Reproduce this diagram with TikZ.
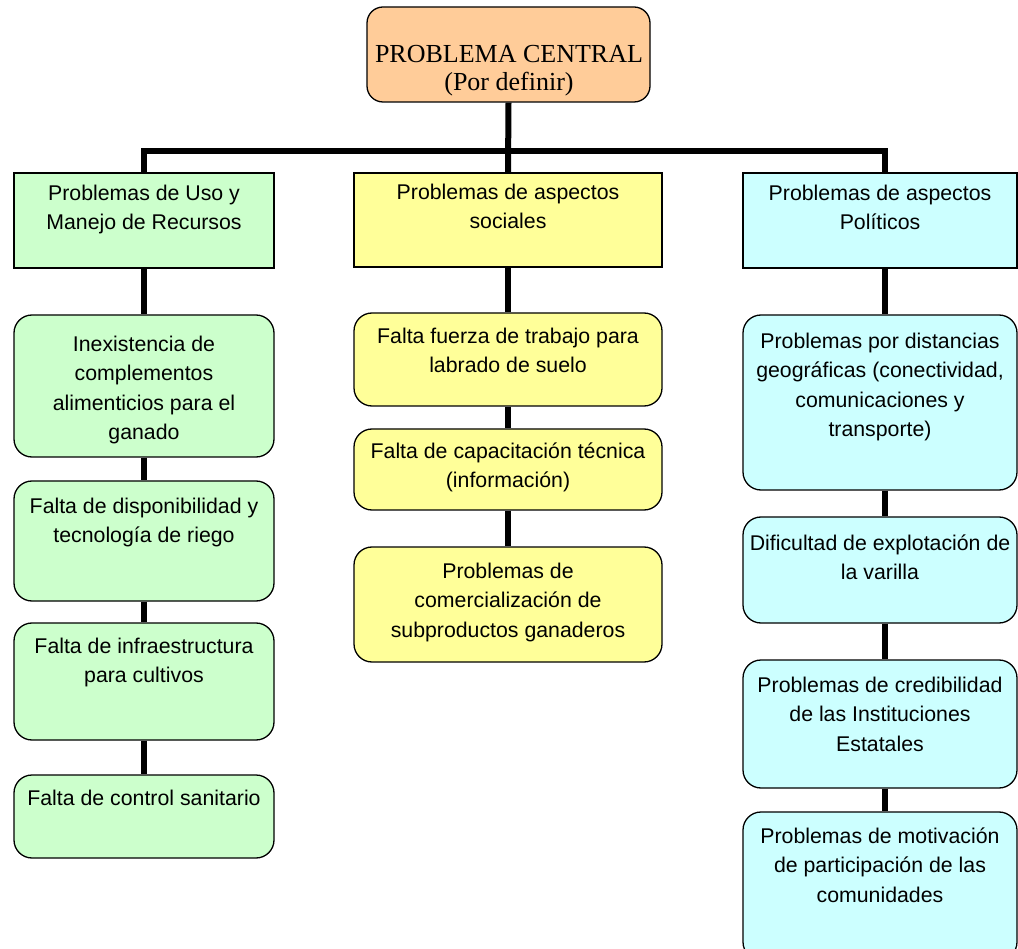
\documentclass[tikz,border=0pt]{standalone}
\usepackage{fontspec}
\setmainfont{Liberation Sans}
\newfontfamily\tnr{Liberation Serif}
\definecolor{corange}{HTML}{FFCC99}
\definecolor{cgreen}{HTML}{CCFFCC}
\definecolor{cyellow}{HTML}{FFFF99}
\definecolor{ccyan}{HTML}{CCFFFF}
\newcommand\fstrut{\rule{0pt}{16pt}}
\tikzset{
  box/.style={draw=black, line width=1.3pt, inner sep=0pt},
  catbox/.style={box},
  rbox/.style={box, rounded corners=18pt},
  conn/.style={draw=black, line width=6pt, line join=miter},
  txt/.style={inner sep=0pt, anchor=north, align=center,
    font=\fontsize{21.3}{29.5}\selectfont},
}
\begin{document}
\begin{tikzpicture}[x=1pt,y=-1pt]
\useasboundingbox (0,0) rectangle (1018,949);
\clip (0,0) rectangle (1018,949);
\fill[white] (0,0) rectangle (1018,949);

% top box
\node[box, rounded corners=16pt, fill=corange, minimum width=283pt, minimum height=95pt] (pc) at (508.5,54.5) {};
\node[inner sep=0pt, anchor=north, align=center, font=\tnr\fontsize{26}{28}\selectfont] (pct) at (509,62-18) {\rule{0pt}{18pt}PROBLEMA CENTRAL\\(Por definir)};

% categories
\node[catbox, fill=cgreen, minimum width=260pt, minimum height=95pt] (c1) at (144,220.5) {};
\node[catbox, fill=cyellow, minimum width=308pt, minimum height=94pt] (c2) at (508,220) {};
\node[catbox, fill=ccyan, minimum width=274pt, minimum height=95pt] (c3) at (880,220.5) {};

% left column
\node[rbox, fill=cgreen, minimum width=260pt, minimum height=142pt] (l1) at (144,386) {};
\node[rbox, fill=cgreen, minimum width=260pt, minimum height=120pt] (l2) at (144,541) {};
\node[rbox, fill=cgreen, minimum width=260pt, minimum height=117pt] (l3) at (144,681.5) {};
\node[rbox, fill=cgreen, minimum width=260pt, minimum height=83pt] (l4) at (144,816.5) {};

% middle column
\node[rbox, fill=cyellow, minimum width=308pt, minimum height=93pt] (m1) at (508,359.5) {};
\node[rbox, fill=cyellow, minimum width=308pt, minimum height=81pt] (m2) at (508,469.5) {};
\node[rbox, fill=cyellow, minimum width=308pt, minimum height=115pt] (m3) at (508,604.5) {};

% right column
\node[rbox, fill=ccyan, minimum width=274pt, minimum height=175pt] (r1) at (880,402.5) {};
\node[rbox, fill=ccyan, minimum width=274pt, minimum height=106pt] (r2) at (880,570) {};
\node[rbox, fill=ccyan, minimum width=274pt, minimum height=128pt] (r3) at (880,724) {};
\node[rbox, fill=ccyan, minimum width=274pt, minimum height=148pt] (r4) at (880,886) {};

% connectors
\coordinate (bar) at (508,151);
\coordinate (rx) at (885,0);
\draw[conn] (pc.south) -- (c2.north);
\draw[conn] (c1.north) |- (bar) -| (c3.north -| rx);
\draw[conn] (c1.south) -- (l1.north);
\draw[conn] (l1.south) -- (l2.north);
\draw[conn] (l2.south) -- (l3.north);
\draw[conn] (l3.south) -- (l4.north);
\draw[conn] (c2.south) -- (m1.north);
\draw[conn] (m1.south) -- (m2.north);
\draw[conn] (m2.south) -- (m3.north);
\draw[conn] (c3.south -| rx) -- (r1.north -| rx);
\draw[conn] (r1.south -| rx) -- (r2.north -| rx);
\draw[conn] (r2.south -| rx) -- (r3.north -| rx);
\draw[conn] (r3.south -| rx) -- (r4.north -| rx);

% texts
\node[txt] (c1t) at (144,200-16) {\fstrut Problemas de Uso y\\Manejo de Recursos};
\node[txt] (c2t) at (508,199-16) {\fstrut Problemas de aspectos\\sociales};
\node[txt] (c3t) at (880,200-16) {\fstrut Problemas de aspectos\\Políticos};

\node[txt] (l1t) at (144,351-16) {\fstrut Inexistencia de\\complementos\\alimenticios para el\\ganado};
\node[txt] (l2t) at (144,513-16) {\fstrut Falta de disponibilidad y\\tecnología de riego};
\node[txt] (l3t) at (144,653-16) {\fstrut Falta de infraestructura\\para cultivos};
\node[txt] (l4t) at (144,805-16) {\fstrut Falta de control sanitario};

\node[txt] (m1t) at (508,343-16) {\fstrut Falta fuerza de trabajo para\\labrado de suelo};
\node[txt] (m2t) at (508,458-16) {\fstrut Falta de capacitación técnica\\(información)};
\node[txt] (m3t) at (508,578-16) {\fstrut Problemas de\\comercialización de\\subproductos ganaderos};

\node[txt] (r1t) at (880,348-16) {\fstrut Problemas por distancias\\geográficas (conectividad,\\comunicaciones y\\transporte)};
\node[txt] (r2t) at (880,550-16) {\fstrut Dificultad de explotación de\\la varilla};
\node[txt] (r3t) at (880,692-16) {\fstrut Problemas de credibilidad\\de las Instituciones\\Estatales};
\node[txt] (r4t) at (880,843-16) {\fstrut Problemas de motivación\\de participación de las\\comunidades};
\end{tikzpicture}
\end{document}
